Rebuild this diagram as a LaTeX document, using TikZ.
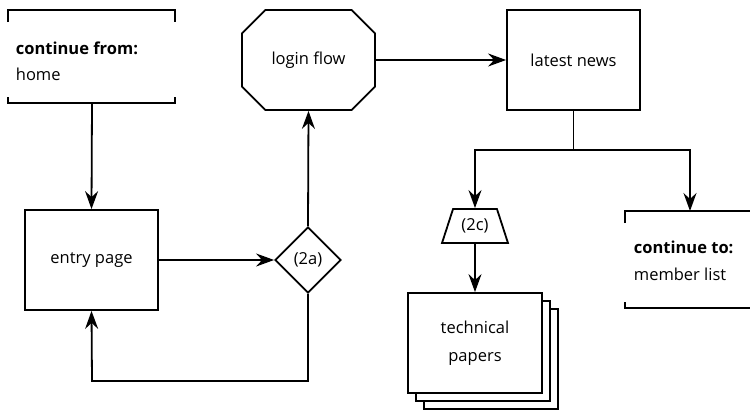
\documentclass[tikz,border=0pt]{standalone}
\usepackage{fontspec}
\setmainfont{Open Sans}
\usetikzlibrary{arrows.meta,shapes.geometric,shapes.misc}
\begin{document}
\begin{tikzpicture}[x=1pt,y=-1pt,
  line width=1.8pt,
  every node/.style={font=\fontsize{16.5}{28}\selectfont},
  arr/.style={-{Stealth[length=18pt,width=13pt,inset=6pt]}},
  boxst/.style={draw,minimum width=133pt,minimum height=100pt,inner sep=0pt,fill=white},
  octst/.style={draw,chamfered rectangle,chamfered rectangle xsep=15pt,chamfered rectangle ysep=15pt,minimum width=133pt,minimum height=100pt,inner sep=0pt},
  diast/.style={draw,diamond,minimum width=66pt,minimum height=66pt,inner sep=0pt},
  trapst/.style={draw,trapezium,trapezium left angle=65,trapezium right angle=65,minimum width=66pt,minimum height=34pt,inner sep=0pt,trapezium stretches=true},
  txt/.style={anchor=base west,inner sep=0pt}
]
\useasboundingbox (0,0) rectangle (750,410);
\clip (0,0) rectangle (750,410);
% continue from bracket
\draw (8,22) -- (8,10) -- (175,10) -- (175,22);
\draw (8,97) -- (8,103) -- (175,103) -- (175,97);
\node[txt] at (15,54) {\textbf{continue from:}};
\node[txt] at (15,80) {home};
\coordinate (cfbot) at (92,103);
% entry page
\node[boxst] (entry) at (91.5,260) {entry page};
% diamond
\node[diast] (dia) at (308,260) {(2a)};
% login flow
\node[octst] (login) at (308.5,60) {login flow};
% latest news
\node[boxst] (news) at (573.5,60) {latest news};
% trapezoid
\node[trapst] (trap) at (475,226) {(2c)};
% papers stack
\node[boxst,minimum width=134pt] (p3) at (491,359) {};
\node[boxst,minimum width=134pt] (p2) at (483,351) {};
\node[boxst,minimum width=134pt,align=center] (papers) at (475,343) {technical\\papers};
% continue to bracket
\draw (625,223) -- (625,211) -- (792,211) -- (792,223);
\draw (625,302) -- (625,308) -- (792,308) -- (792,302);
\node[txt] at (633,253) {\textbf{continue to:}};
\node[txt] at (633,280) {member list};
\coordinate (cttop) at (690,211);
% connectors
\draw[arr] (cfbot) -- (entry.north);
\draw[arr] (entry.east) -- (dia.west);
\draw[arr] (dia.north) -- (login.south);
\draw[arr] (dia.south) |- (92,381) -- (entry.south);
\draw[arr] (login.east) -- (news.west);
\coordinate (split) at (573.5,150);
\draw[arr] (news.south) -- (split) -| (trap.north);
\draw[arr] (split) -| (cttop);
\draw[arr] (trap.south) -- (papers.north);
\end{tikzpicture}
\end{document}
